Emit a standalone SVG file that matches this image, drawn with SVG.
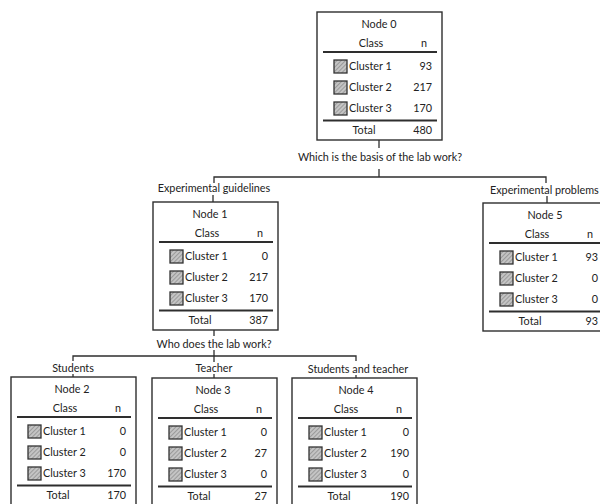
<svg xmlns="http://www.w3.org/2000/svg" width="600" height="504" viewBox="0 0 600 504">
<style>
text{font-family:Lato,"Open Sans","Liberation Sans",sans-serif;font-size:10.8px;fill:#222}
.m{text-anchor:middle}
.e{text-anchor:end}
.box{fill:none;stroke:#2e2e2e;stroke-width:1.4}
.rule{stroke:#2e2e2e;stroke-width:1.8}
.ic{fill:url(#tex);stroke:#333;stroke-width:1.3}
.c{fill:none;stroke:#2e2e2e;stroke-width:1.3}
</style>
<defs>
<pattern id="tex" width="3" height="3" patternUnits="userSpaceOnUse" patternTransform="rotate(45)">
<rect width="3" height="3" fill="#c4c4c4"/>
<line x1="0" y1="0" x2="0" y2="3" stroke="#707070" stroke-width="1"/>
</pattern>
<g id="tpl">
<rect class="box" x="0" y="0" width="125" height="128"/>
<line class="rule" x1="6" y1="40" x2="120" y2="40"/>
<line class="rule" x1="6" y1="108.5" x2="120" y2="108.5"/>
<rect class="ic" x="17" y="48" width="13" height="13"/>
<rect class="ic" x="17" y="69" width="13" height="13"/>
<rect class="ic" x="17" y="90" width="13" height="13"/>
<text class="m" x="54" y="35">Class</text>
<text class="m" x="107" y="35">n</text>
<text x="32" y="58">Cluster 1</text>
<text x="32" y="79">Cluster 2</text>
<text x="32" y="100">Cluster 3</text>
<text class="m" x="47" y="121.5">Total</text>
</g>
</defs>
<rect width="600" height="504" fill="#fff"/>
<g id="connectors">
<line class="c" x1="379" y1="140" x2="379" y2="148"/>
<text class="m" x="380" y="161">Which is the basis of the lab work?</text>
<line class="c" x1="379" y1="169" x2="379" y2="177"/>
<polyline class="c" points="214,183 214,177 546,177 546,183"/>
<text class="m" x="214" y="192">Experimental guidelines</text>
<text x="490" y="193.5">Experimental problems</text>
<line class="c" x1="213" y1="195" x2="213" y2="202"/>
<line class="c" x1="547" y1="196" x2="547" y2="203"/>
<line class="c" x1="214" y1="330" x2="214" y2="336"/>
<text class="m" x="214" y="348">Who does the lab work?</text>
<line class="c" x1="214" y1="350" x2="214" y2="362"/>
<polyline class="c" points="73,361 73,356 356,356 356,361"/>
<text class="m" x="73" y="372">Students</text>
<text class="m" x="214" y="372">Teacher</text>
<text class="m" x="358" y="372.5">Students and teacher</text>
<line class="c" x1="73" y1="374" x2="73" y2="377"/>
<line class="c" x1="214" y1="374" x2="214" y2="378"/>
<line class="c" x1="356" y1="375" x2="356" y2="378"/>
</g>
<g id="node0" transform="translate(317,12)">
<use href="#tpl"/>
<text class="m" x="62" y="16">Node 0</text>
<text class="e" x="115" y="58">93</text>
<text class="e" x="115" y="79">217</text>
<text class="e" x="115" y="100">170</text>
<text class="e" x="115" y="121.5">480</text>
</g>
<g id="node1" transform="translate(153,202)">
<use href="#tpl"/>
<text class="m" x="57" y="15.5">Node 1</text>
<text class="e" x="115" y="58">0</text>
<text class="e" x="115" y="79">217</text>
<text class="e" x="115" y="100">170</text>
<text class="e" x="115" y="121.5">387</text>
</g>
<g id="node5" transform="translate(483,203)">
<use href="#tpl"/>
<text class="m" x="62" y="15.5">Node 5</text>
<text class="e" x="115" y="58">93</text>
<text class="e" x="115" y="79">0</text>
<text class="e" x="115" y="100">0</text>
<text class="e" x="115" y="121.5">93</text>
</g>
<g id="node2" transform="translate(11,377)">
<use href="#tpl"/>
<text class="m" x="61" y="15.5">Node 2</text>
<text class="e" x="115" y="58">0</text>
<text class="e" x="115" y="79">0</text>
<text class="e" x="115" y="100">170</text>
<text class="e" x="115" y="121.5">170</text>
</g>
<g id="node3" transform="translate(152,378)">
<use href="#tpl"/>
<text class="m" x="61" y="15.5">Node 3</text>
<text class="e" x="115" y="58">0</text>
<text class="e" x="115" y="79">27</text>
<text class="e" x="115" y="100">0</text>
<text class="e" x="115" y="121.5">27</text>
</g>
<g id="node4" transform="translate(292,378)">
<use href="#tpl"/>
<text class="m" x="64" y="15.5">Node 4</text>
<text class="e" x="117" y="58">0</text>
<text class="e" x="117" y="79">190</text>
<text class="e" x="117" y="100">0</text>
<text class="e" x="117" y="121.5">190</text>
</g>
</svg>
